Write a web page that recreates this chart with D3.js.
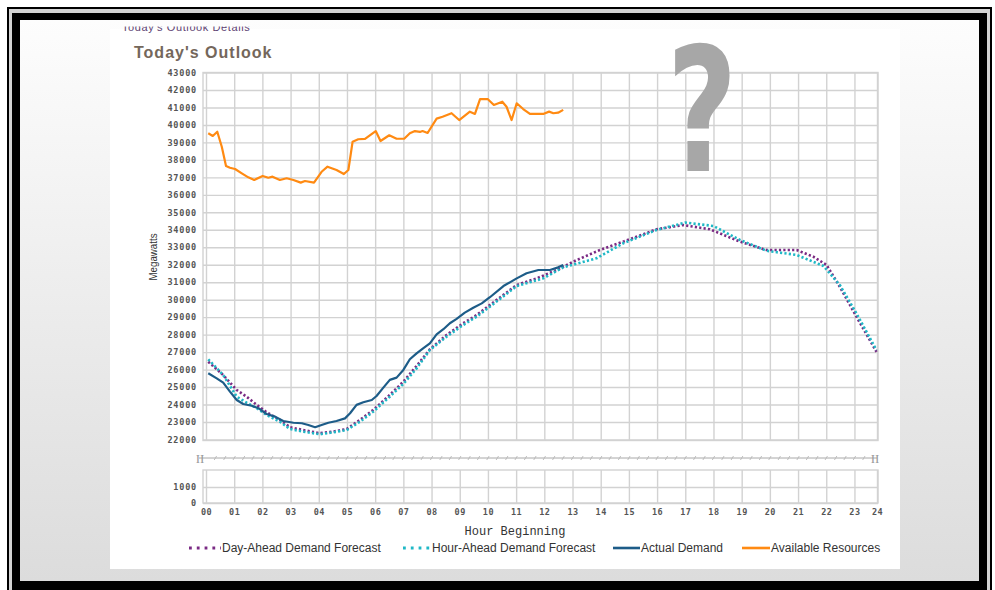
<!DOCTYPE html>
<html><head><meta charset="utf-8">
<script src="https://cdn.jsdelivr.net/npm/d3@7"></script>
<style>body{margin:0;background:#fff;} svg{display:block;}</style>
</head><body><svg id="c" width="995" height="590"></svg>
<script>
// ---------- DATA ----------
const yTicks = [22000,23000,24000,25000,26000,27000,28000,29000,30000,31000,32000,33000,34000,35000,36000,37000,38000,39000,40000,41000,42000,43000];
const xTickHours = [0,1,2,3,4,5,6,7,8,9,10,11,12,13,14,15,16,17,18,19,20,21,22,23,23.8];
const xTickLabels = ["00","01","02","03","04","05","06","07","08","09","10","11","12","13","14","15","16","17","18","19","20","21","22","23","24"];
const lowerTicks = [0,1000];
const lowerTickLabels = ["0","1000"];

const availHours = [0.08,0.24,0.40,0.56,0.71,0.85,1.03,1.27,1.50,1.71,2.01,2.21,2.36,2.62,2.86,3.10,3.36,3.51,3.83,4.10,4.31,4.63,4.89,5.05,5.20,5.40,5.64,6.02,6.19,6.50,6.76,7.03,7.23,7.41,7.59,7.68,7.86,8.18,8.39,8.71,8.98,9.36,9.54,9.72,9.99,10.21,10.51,10.66,10.84,11.02,11.25,11.49,11.96,12.17,12.32,12.49,12.67];
const availValues = [39520,39370,39610,38750,37650,37550,37480,37230,37000,36850,37080,36980,37040,36850,36950,36850,36700,36790,36700,37320,37610,37420,37190,37420,39040,39180,39200,39650,39080,39410,39210,39210,39520,39650,39600,39650,39540,40360,40470,40670,40280,40760,40630,41480,41480,41140,41330,41040,40280,41240,40910,40630,40630,40760,40670,40700,40860];

const actualHours = [0.08,0.38,0.61,0.85,1.09,1.32,1.62,1.86,2.15,2.45,2.74,3.10,3.40,3.63,3.87,4.10,4.34,4.63,4.93,5.11,5.34,5.58,5.88,6.05,6.29,6.52,6.76,7.00,7.23,7.47,7.70,7.94,8.18,8.42,8.65,8.89,9.18,9.48,9.78,10.07,10.55,11.02,11.37,11.79,12.20,12.49,12.67];
const actualValues = [25790,25500,25250,24740,24260,24030,23930,23790,23460,23310,23060,22960,22930,22830,22700,22830,22960,23060,23210,23500,23980,24130,24260,24490,24970,25410,25540,25980,26590,26930,27220,27500,28020,28310,28650,28900,29260,29540,29790,30140,30780,31220,31510,31700,31700,31850,31990];

const dayAheadHours = [0.08,0.61,1.09,1.44,1.80,2.15,2.62,2.98,3.45,4.04,4.51,4.99,5.46,5.93,6.52,7.00,7.47,7.94,8.53,9.12,9.60,10.07,11.02,11.73,12.44,13.15,13.97,14.80,15.98,16.93,17.87,18.94,19.88,20.35,20.95,21.54,22.01,22.48,23.07,23.78];
const dayAheadValues = [26450,25690,24830,24450,23980,23560,23120,22700,22540,22360,22450,22600,23120,23690,24550,25310,26210,27160,27980,28650,29120,29700,30840,31220,31700,32270,32840,33320,34030,34270,34030,33320,32840,32840,32840,32460,31990,30740,29030,27020];

const hourAheadHours = [0.08,0.61,1.09,1.44,1.80,2.15,2.62,2.98,3.45,4.04,4.51,4.99,5.46,5.93,6.52,7.00,7.47,7.94,8.53,9.12,9.60,10.07,11.02,11.96,12.67,13.85,14.80,15.98,17.00,17.99,18.94,19.88,20.95,21.90,22.48,23.07,23.78];
const hourAheadValues = [26590,25690,24450,24110,23790,23400,23020,22600,22450,22300,22410,22540,23020,23590,24450,25180,26070,27120,27880,28550,29030,29600,30780,31220,31850,32370,33230,33990,34410,34220,33420,32800,32560,31930,30840,29220,27120];

const seriesNames = ["Day-Ahead Demand Forecast","Hour-Ahead Demand Forecast","Actual Demand","Available Resources"];

// ---------- DRAW ----------
const svg = d3.select("#c");
const defs = svg.append("defs");
const grad = defs.append("linearGradient").attr("id","bg").attr("x1",0).attr("y1",0).attr("x2",0).attr("y2",1);
grad.append("stop").attr("offset","0%").attr("stop-color","#fdfdfd");
grad.append("stop").attr("offset","100%").attr("stop-color","#dcdcdc");
defs.append("clipPath").attr("id","topclip").append("rect").attr("x",100).attr("y",26.5).attr("width",300).attr("height",20);

// frame
svg.append("rect").attr("x",0).attr("y",0).attr("width",995).attr("height",590).attr("fill","#fff");
svg.append("rect").attr("x",7).attr("y",7).attr("width",985).attr("height",600).attr("fill","#000");
svg.append("rect").attr("x",9).attr("y",9).attr("width",981).attr("height",600).attr("fill","#d4d4d4");
svg.append("rect").attr("x",12).attr("y",13).attr("width",975).attr("height",600).attr("fill","#000");
svg.append("rect").attr("x",20).attr("y",20).attr("width",959).attr("height",561).attr("fill","url(#bg)");
svg.append("rect").attr("x",110).attr("y",29).attr("width",790).attr("height",540).attr("fill","#fff");

svg.append("text").attr("x",122).attr("y",31).attr("clip-path","url(#topclip)")
  .attr("font-family","Liberation Sans, Arial, sans-serif").attr("font-size",11).attr("fill","#5d3f72")
  .attr("letter-spacing",0.6).text("Today's Outlook Details");

svg.append("text").attr("x",134).attr("y",58)
  .attr("font-family","Liberation Sans, Arial, sans-serif").attr("font-weight","bold")
  .attr("font-size",16).attr("letter-spacing",1).attr("fill","#74675b").text("Today's Outlook");

const x = d3.scaleLinear().domain([0,23.8]).range([206,877]);
const y = d3.scaleLinear().domain([22000,43000]).range([439.5,72.5]);
const y2 = d3.scaleLinear().domain([0,2000]).range([503,471]);

const gridColor = "#d2d2d2";
const tickFont = "DejaVu Sans Mono, monospace";

// main plot grid
const g = svg.append("g");
g.append("rect").attr("x",203).attr("y",72.5).attr("width",675).attr("height",368)
  .attr("fill","#fff").attr("stroke",gridColor).attr("stroke-width",1.4);
const yAxisG = g.append("g").attr("transform","translate(203,0)")
  .call(d3.axisLeft(y).tickValues(yTicks).tickSize(-675).tickFormat(d3.format("d")).tickPadding(6));
yAxisG.select(".domain").remove();
yAxisG.selectAll(".tick line").attr("stroke",gridColor).attr("stroke-width",1.4);
yAxisG.selectAll(".tick text").attr("font-family",tickFont).attr("font-weight","bold")
  .attr("font-size",8.5).attr("letter-spacing",0.8).attr("fill","#555").attr("x",-6);

const xGridG = g.append("g").attr("transform","translate(0,440.5)")
  .call(d3.axisBottom(x).tickValues(xTickHours).tickSize(-368).tickFormat(""));
xGridG.select(".domain").remove();
xGridG.selectAll(".tick line").attr("stroke",gridColor).attr("stroke-width",1.4);

// separator with break marks
const sep = svg.append("g");
sep.append("line").attr("x1",199).attr("x2",877).attr("y1",458).attr("y2",458).attr("stroke","#a8a8a8").attr("stroke-width",1);
const slashH = d3.range(1, 71).map(i => i/3);
sep.selectAll("line.sl").data(slashH).join("line").attr("class","sl")
  .attr("x1",d=>x(d)-1.2).attr("x2",d=>x(d)+1.2).attr("y1",460).attr("y2",456)
  .attr("stroke","#b8b8b8").attr("stroke-width",0.9);
[200, 875].forEach(px => {
  sep.append("text").attr("x",px).attr("y",462.5).attr("text-anchor","middle")
    .attr("font-family","Liberation Serif, serif").attr("font-size",13).attr("fill","#9a9a9a").text("II");
});

// lower panel
const lp = svg.append("g");
lp.append("rect").attr("x",203).attr("y",470).attr("width",675).attr("height",33)
  .attr("fill","#fff").attr("stroke",gridColor).attr("stroke-width",1.4);
const y2G = lp.append("g").attr("transform","translate(203,0)")
  .call(d3.axisLeft(y2).tickValues(lowerTicks).tickSize(-675).tickFormat((d,i)=>lowerTickLabels[i]).tickPadding(6));
y2G.select(".domain").remove();
y2G.selectAll(".tick line").attr("stroke",gridColor).attr("stroke-width",1.4);
y2G.selectAll(".tick text").attr("font-family",tickFont).attr("font-weight","bold")
  .attr("font-size",8.5).attr("letter-spacing",0.8).attr("fill","#555").attr("x",-6);
const x2G = lp.append("g").attr("transform","translate(0,503)")
  .call(d3.axisBottom(x).tickValues(xTickHours).tickSize(-33).tickPadding(6).tickFormat((d,i)=>xTickLabels[i]));
x2G.select(".domain").remove();
x2G.selectAll(".tick line").attr("stroke",gridColor).attr("stroke-width",1.4);
x2G.selectAll(".tick text").attr("font-family",tickFont).attr("font-weight","bold")
  .attr("font-size",8.5).attr("letter-spacing",0.5).attr("fill","#555");

// axis titles
svg.append("text").attr("x",515).attr("y",535).attr("text-anchor","middle")
  .attr("font-family","Liberation Mono, monospace").attr("font-size",12).attr("fill","#333").text("Hour Beginning");
svg.append("text").attr("transform","translate(157,257) rotate(-90)").attr("text-anchor","middle")
  .attr("font-family","Liberation Sans, Arial, sans-serif").attr("font-size",11.5)
  .attr("textLength",47).attr("lengthAdjust","spacingAndGlyphs").attr("fill","#333").text("Megawatts");

// series
const line = d3.line().x(d=>x(d[0])).y(d=>y(d[1]));
const mk = (hs, vs) => hs.map((h,i)=>[h, vs[i]]);
const styles = [
  {data: mk(dayAheadHours, dayAheadValues), color:"#7a2a84", width:2.6, dash:"2.2,2.2"},
  {data: mk(hourAheadHours, hourAheadValues), color:"#1fb8c6", width:2.6, dash:"2.2,2.2"},
  {data: mk(actualHours, actualValues), color:"#1d5c88", width:2.2, dash:null},
  {data: mk(availHours, availValues), color:"#ff8a12", width:2.2, dash:null}
];
const sg = svg.append("g");
styles.forEach(s => {
  sg.append("path").attr("d", line(s.data)).attr("fill","none").attr("stroke",s.color)
    .attr("stroke-width",s.width).attr("stroke-dasharray",s.dash).attr("stroke-linejoin","round");
});

// legend
const legX = [[189,221],[403,431],[613,640],[742,770]];
const lg = svg.append("g");
styles.forEach((s,i) => {
  lg.append("line").attr("x1",legX[i][0]).attr("x2",legX[i][1]).attr("y1",548).attr("y2",548)
    .attr("stroke",s.color).attr("stroke-width",s.dash?2.8:2.6)
    .attr("stroke-dasharray", s.dash ? "2.8,5" : null);
  lg.append("text").attr("x",legX[i][1]+1).attr("y",552)
    .attr("font-family","Liberation Sans, Arial, sans-serif").attr("font-size",12).attr("fill","#333")
    .text(seriesNames[i]);
});

// big question mark overlay, fitted to its box via canvas ink metrics
(function(){
  const fs = 175, fam = "DejaVu Sans";
  const ctx = document.createElement("canvas").getContext("2d");
  ctx.font = "bold " + fs + "px '" + fam + "'";
  const m = ctx.measureText("?");
  const inkW = m.actualBoundingBoxLeft + m.actualBoundingBoxRight;
  const inkH = m.actualBoundingBoxAscent + m.actualBoundingBoxDescent;
  const bx = 675, by = 42, bw = 55, bh = 129;
  const sx = bw / inkW, sy = bh / inkH;
  const tx = bx + m.actualBoundingBoxLeft * sx;
  const ty = by + m.actualBoundingBoxAscent * sy;
  svg.append("text").attr("transform",`translate(${tx},${ty}) scale(${sx},${sy})`)
    .attr("font-family",fam).attr("font-weight","bold").attr("font-size",fs)
    .attr("fill","#a7a7a7").text("?");
})();
</script>
</body></html>
